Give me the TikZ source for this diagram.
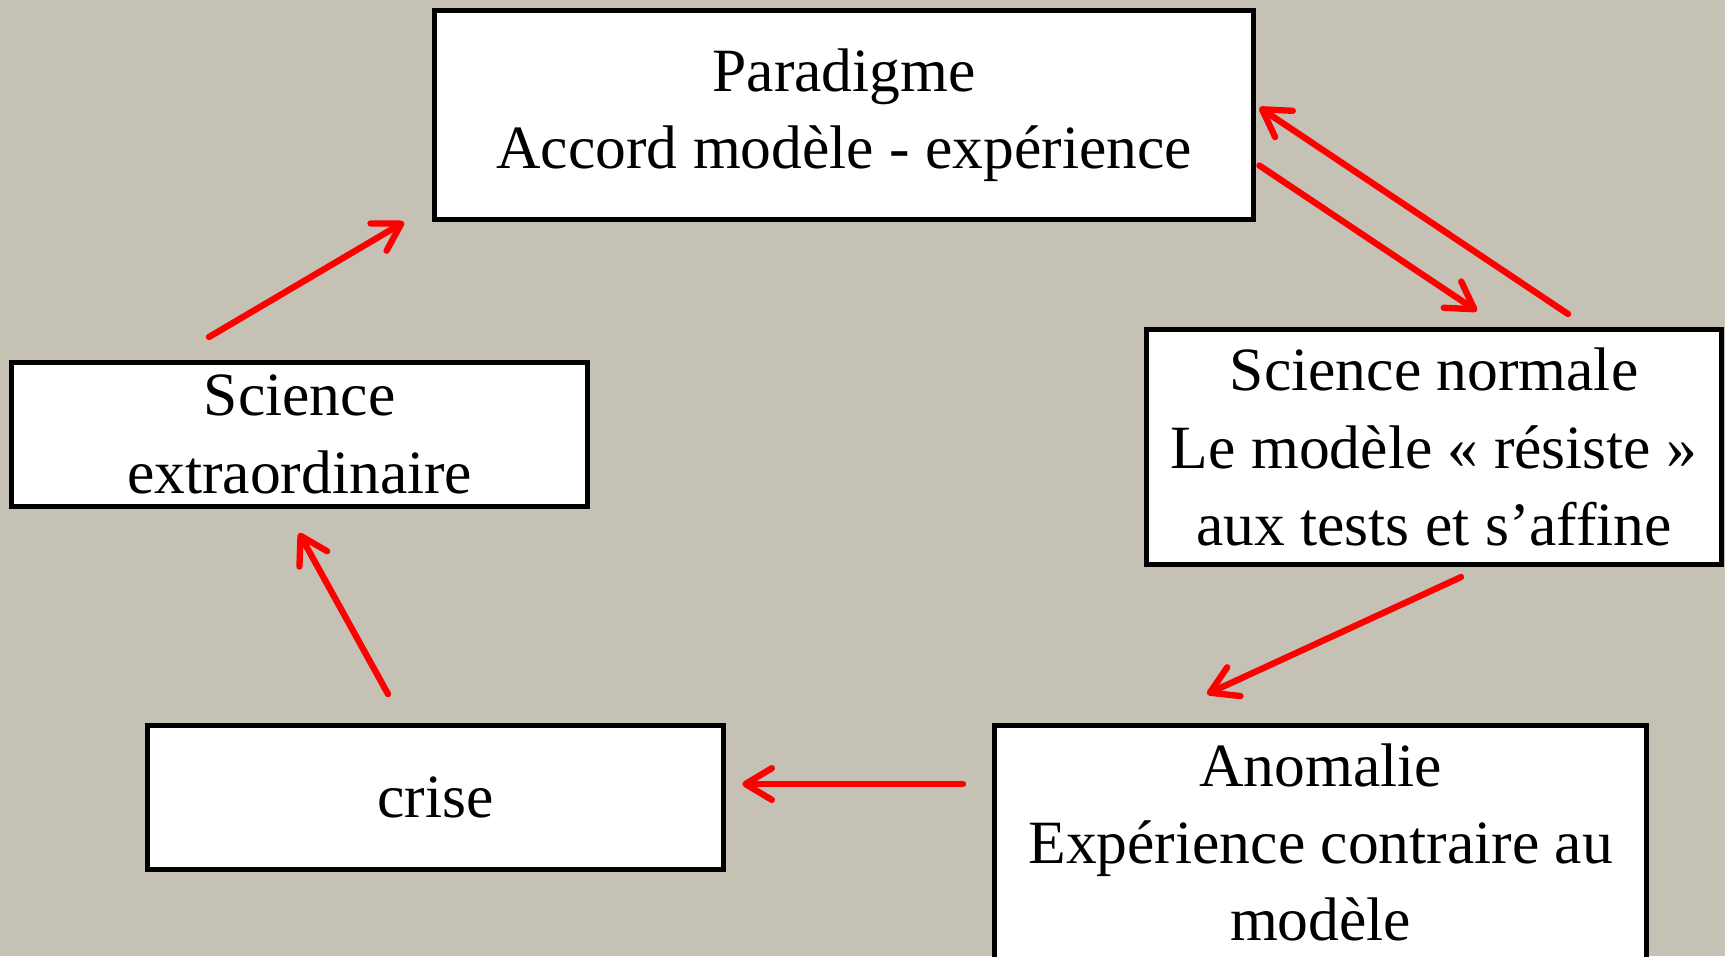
\documentclass[tikz,border=0pt]{standalone}
\usepackage{fontspec}
\setmainfont{Liberation Serif}
\usetikzlibrary{arrows.meta}
\definecolor{bg}{HTML}{C5C1B4}
\definecolor{arrowred}{HTML}{FF0000}
\begin{document}
\begin{tikzpicture}[x=0.01cm,y=-0.01cm,
  box/.style={draw=black,line width=1.4pt,fill=white,rectangle,anchor=north west,
    align=center,inner sep=0pt,font=\fontsize{17.5pt}{22pt}\selectfont},
  link/.style={draw=arrowred,line width=1.8pt,line cap=round,
    -{Straight Barb[length=7.5pt,width=9pt,line cap=round,line join=round]}}]
\useasboundingbox (0,0) rectangle (1725,956);
\clip (0,0) rectangle (1725,956);
\fill[bg] (0,0) rectangle (1725,956);
\node[box,minimum width=8.19cm,minimum height=2.09cm] (par) at (432,8)
  {Paradigme\\Accord modèle - expérience};
\node[box,minimum width=5.75cm,minimum height=2.35cm] (norm) at (1144,327)
  {Science normale\\Le modèle « résiste »\\aux tests et s’affine};
\node[box,minimum width=6.52cm,minimum height=2.34cm] (anom) at (992,723)
  {Anomalie\\Expérience contraire au\\modèle};
\node[box,minimum width=5.76cm,minimum height=1.44cm] (crise) at (145,723)
  {crise};
\node[box,minimum width=5.76cm,minimum height=1.44cm] (ext) at (9,360)
  {Science\\extraordinaire};
\draw[link] ([shift={(200,-23)}]ext.north west) -- ([shift={(-28,0)}]par.south west);
\draw[link] ([shift={(424,-13)}]norm.north west) -- ([shift={(3,-7.5)}]par.east);
\draw[link] ([shift={(3,50.5)}]par.east) -- ([shift={(333,-16)}]norm.north west);
\draw[link] ([shift={(317,10)}]norm.south west) -- ([shift={(215,-29)}]anom.north west);
\draw[link] ([shift={(-29,61)}]anom.north west) -- ([shift={(16,61)}]crise.north east);
\draw[link] ([shift={(243,-29)}]crise.north west) -- ([shift={(290,24)}]ext.south west);
\end{tikzpicture}
\end{document}
